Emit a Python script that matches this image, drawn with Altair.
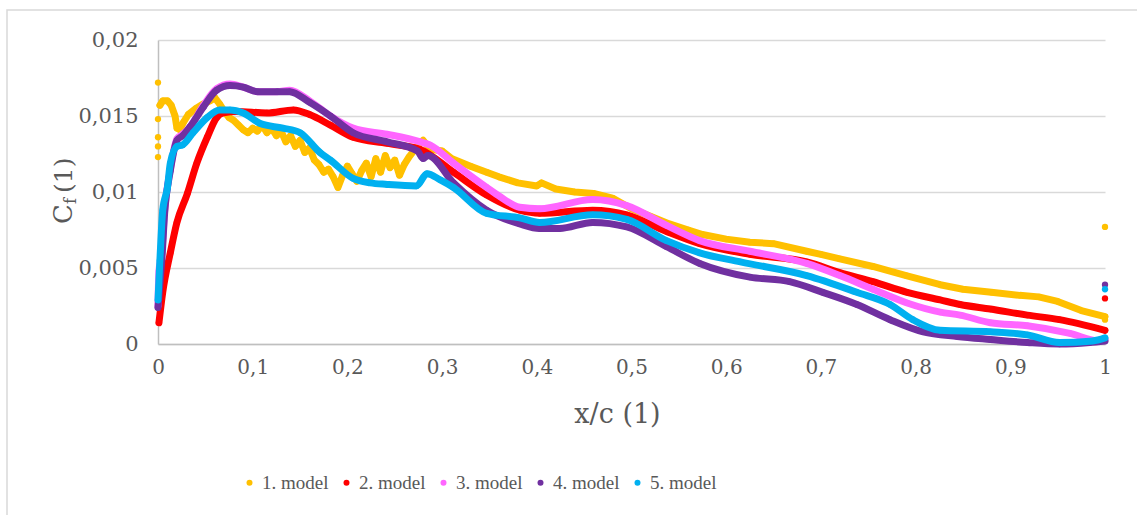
import altair as alt
import pandas as pd

# Skin-friction coefficient along the chord for five turbulence models
names = ["1. model", "2. model", "3. model", "4. model", "5. model"]
colors = ["#FFC000", "#FF0000", "#FF66FF", "#7030A0", "#00B0F0"]

m1_x = [0.002, 0.005, 0.01, 0.014, 0.018, 0.02, 0.023, 0.027, 0.032, 0.04, 0.048, 0.055,
        0.06, 0.065, 0.07, 0.075, 0.08, 0.085, 0.09, 0.095, 0.1, 0.105, 0.11, 0.115, 0.12,
        0.125, 0.13, 0.135, 0.14, 0.145, 0.15, 0.155, 0.16, 0.165, 0.17, 0.175, 0.18, 0.185,
        0.19, 0.195, 0.2, 0.205, 0.21, 0.215, 0.22, 0.225, 0.23, 0.235, 0.24, 0.245, 0.25,
        0.255, 0.26, 0.265, 0.27, 0.275, 0.28, 0.285, 0.29, 0.3, 0.31, 0.33, 0.347, 0.36,
        0.38, 0.4, 0.405, 0.42, 0.44, 0.46, 0.48, 0.5, 0.52, 0.54, 0.56, 0.575, 0.6, 0.625,
        0.65, 0.685, 0.7, 0.72, 0.755, 0.79, 0.826, 0.85, 0.88, 0.91, 0.93, 0.95, 0.975, 1.0]
m1_y = [0.0157, 0.0160, 0.0160, 0.0157, 0.0150, 0.0142, 0.0141, 0.0146, 0.0151, 0.0155, 0.0158, 0.0160,
        0.0162, 0.0158, 0.0153, 0.0149, 0.0147, 0.0144, 0.0141, 0.0139, 0.0142, 0.0140, 0.0144, 0.0139, 0.0142,
        0.0137, 0.0140, 0.0133, 0.0137, 0.0130, 0.0134, 0.0126, 0.0129, 0.0121, 0.0118, 0.0113, 0.0115, 0.0110,
        0.0103, 0.0111, 0.0117, 0.0112, 0.0107, 0.0114, 0.0119, 0.0110, 0.0122, 0.0113, 0.0124, 0.0116, 0.0121,
        0.0111, 0.0118, 0.0123, 0.0127, 0.0131, 0.0134, 0.0130, 0.0128, 0.0127, 0.0122, 0.0117, 0.0113, 0.0110,
        0.0106, 0.0104, 0.0106, 0.0102, 0.0100, 0.0099, 0.0096, 0.0089, 0.0084, 0.0079, 0.0075, 0.0072, 0.0069, 0.0067,
        0.0066, 0.0061, 0.0059, 0.0056, 0.0051, 0.0045, 0.0039, 0.0036, 0.0034, 0.0032, 0.0031, 0.0028, 0.0022, 0.0018]

m2_x = [0.001, 0.005, 0.013, 0.02, 0.031, 0.041, 0.052, 0.062, 0.069, 0.083, 0.115, 0.143,
        0.16, 0.182, 0.206, 0.242, 0.277, 0.312, 0.347, 0.382, 0.403, 0.459, 0.495, 0.537,
        0.572, 0.625, 0.685, 0.72, 0.755, 0.791, 0.826, 0.847, 0.879, 0.918, 0.952, 1.0]
m2_y = [0.0014, 0.0034, 0.0060, 0.0080, 0.0099, 0.0119, 0.0136, 0.0149, 0.0152, 0.0153, 0.0152, 0.0154,
        0.0151, 0.0144, 0.0136, 0.0132, 0.0128, 0.0113, 0.0098, 0.0088, 0.0086, 0.0088, 0.0085, 0.0074,
        0.0066, 0.0059, 0.0054, 0.0047, 0.0041, 0.0034, 0.0029, 0.0026, 0.0023, 0.0019, 0.0016, 0.0009]

m3_x = [0.0, 0.001, 0.004, 0.007, 0.013, 0.02, 0.026, 0.034, 0.048, 0.062, 0.076, 0.09,
        0.105, 0.126, 0.139, 0.16, 0.171, 0.182, 0.206, 0.242, 0.277, 0.287, 0.312, 0.347,
        0.361, 0.382, 0.403, 0.459, 0.495, 0.537, 0.572, 0.625, 0.685, 0.72, 0.755, 0.791,
        0.826, 0.847, 0.879, 0.918, 0.963, 0.994, 1.0]
m3_y = [0.0025, 0.0048, 0.0060, 0.0088, 0.0115, 0.0135, 0.0138, 0.0143, 0.0157, 0.0168, 0.0171, 0.0169,
        0.0166, 0.0166, 0.0167, 0.0160, 0.0155, 0.0150, 0.0142, 0.0138, 0.0133, 0.0131, 0.0119, 0.0103,
        0.0097, 0.0090, 0.0089, 0.0095, 0.0091, 0.0078, 0.0068, 0.0061, 0.0053, 0.0045, 0.0036, 0.0027,
        0.0021, 0.0019, 0.0014, 0.0012, 0.0007, 0.0002, 0.0003]

m4_x = [0.0, 0.002, 0.004, 0.007, 0.013, 0.02, 0.026, 0.034, 0.048, 0.062, 0.076, 0.09,
        0.105, 0.126, 0.139, 0.16, 0.182, 0.206, 0.242, 0.274, 0.28, 0.285, 0.312, 0.347,
        0.382, 0.403, 0.424, 0.459, 0.495, 0.537, 0.572, 0.625, 0.667, 0.702, 0.738, 0.773,
        0.808, 0.844, 0.879, 0.918, 0.952, 0.984, 1.0]
m4_y = [0.0024, 0.0040, 0.0055, 0.0086, 0.0114, 0.0134, 0.0137, 0.0143, 0.0156, 0.0167, 0.0170, 0.0169,
        0.0166, 0.0166, 0.0166, 0.0159, 0.0150, 0.0139, 0.0133, 0.0127, 0.0122, 0.0124, 0.0106, 0.0088,
        0.0079, 0.0076, 0.0076, 0.0080, 0.0077, 0.0064, 0.0053, 0.0044, 0.0041, 0.0034, 0.0026, 0.0016,
        0.0008, 0.0005, 0.0003, 0.0001, 0.0000, 0.0001, 0.0002]

m5_x = [0.0, 0.002, 0.005, 0.01, 0.013, 0.02, 0.026, 0.037, 0.052, 0.065, 0.076, 0.09,
        0.108, 0.132, 0.15, 0.171, 0.182, 0.206, 0.224, 0.242, 0.273, 0.284, 0.298, 0.312,
        0.347, 0.382, 0.403, 0.459, 0.495, 0.537, 0.572, 0.615, 0.685, 0.738, 0.773, 0.797,
        0.826, 0.879, 0.918, 0.952, 0.987, 1.0]
m5_y = [0.0029, 0.0055, 0.0088, 0.0103, 0.0119, 0.0130, 0.0131, 0.0139, 0.0149, 0.0154, 0.0154, 0.0152,
        0.0145, 0.0142, 0.0139, 0.0126, 0.0121, 0.0109, 0.0106, 0.0105, 0.0104, 0.0112, 0.0108, 0.0103,
        0.0086, 0.0083, 0.0080, 0.0085, 0.0082, 0.0068, 0.0060, 0.0054, 0.0045, 0.0034, 0.0026, 0.0016,
        0.0009, 0.0008, 0.0006, 0.0001, 0.0002, 0.0004]

# Loose points that sit apart from the curves (leading-edge scatter, trailing-edge values)
loose_model = ["1. model"] * 7 + ["2. model", "4. model", "5. model"]
loose_x = [0.0, 0.0, 0.0, 0.0, 0.0, 1.0, 1.0, 1.0, 1.0, 1.0]
loose_y = [0.0172, 0.0148, 0.0136, 0.0130, 0.0123, 0.0077, 0.0016, 0.0030, 0.0039, 0.0036]

series = [(m1_x, m1_y), (m2_x, m2_y), (m3_x, m3_y), (m4_x, m4_y), (m5_x, m5_y)]
# model 1 is noisy and drawn point to point; the others are smooth curves
interp = ["linear", "monotone", "monotone", "monotone", "monotone"]

FONT = "DejaVu Serif"
TXT = "#595959"

color_scale = alt.Scale(domain=names, range=colors)
x_enc = alt.X("x:Q", scale=alt.Scale(domain=[0, 1], nice=False),
              axis=alt.Axis(values=[i / 10 for i in range(11)], title="x/c (1)",
                            labelExpr="replace(toString(datum.value), '.', ',')",
                            labelFlush=False, labelOverlap=False,
                            grid=False, ticks=False, domainColor="#bfbfbf", domainWidth=1.5,
                            labelFont=FONT, labelFontSize=20, labelColor=TXT, labelPadding=13,
                            titleFont=FONT, titleFontSize=27, titleFontWeight="normal",
                            titleColor=TXT, titleX=459, titleY=70, titleBaseline="middle"))
y_enc = alt.Y("cf:Q", scale=alt.Scale(domain=[0, 0.02], nice=False),
              axis=alt.Axis(values=[0, 0.005, 0.01, 0.015, 0.02], title=None,
                            labelExpr="replace(toString(datum.value), '.', ',')",
                            grid=True, gridColor="#d9d9d9", gridWidth=1.5, ticks=False,
                            domainColor="#bfbfbf", domainWidth=1.5,
                            labelFont=FONT, labelFontSize=21, labelColor=TXT, labelPadding=20))

layers = []

# Outer chart frame
frame = alt.Chart(alt.Data(values=[{"k": 0}])).mark_rect(
    fill=None, stroke="#d9d9d9", strokeWidth=1.5
).encode(x=alt.value(-151), y=alt.value(-30), x2=alt.value(1000), y2=alt.value(490))
layers.append(frame)

for name, col, ip, (xs, ys) in zip(names, colors, interp, series):
    df = pd.DataFrame({"x": xs, "cf": ys, "model": name})
    line = alt.Chart(df).mark_line(color=col, strokeWidth=7, strokeCap="round",
                                   strokeJoin="round", interpolate=ip).encode(
        x=x_enc, y=y_enc, order="x:Q")
    dots = alt.Chart(df).mark_circle(size=40, opacity=1).encode(
        x=x_enc, y=y_enc,
        color=alt.Color("model:N", scale=color_scale, title=None))
    layers += [line, dots]

loose_df = pd.DataFrame({"x": loose_x, "cf": loose_y, "model": loose_model})
loose = alt.Chart(loose_df).mark_circle(size=40, opacity=1).encode(
    x=x_enc, y=y_enc, color=alt.Color("model:N", scale=color_scale, title=None))
layers.append(loose)

# Rotated y-axis title with subscript f
ytitle = alt.Data(values=[{"k": 0}])
t_c = alt.Chart(ytitle).mark_text(text="C", angle=270, align="left", baseline="alphabetic",
                                  font=FONT, fontSize=26, color=TXT).encode(
    x=alt.value(-86), y=alt.value(184))
t_f = alt.Chart(ytitle).mark_text(text="f", angle=270, align="left", baseline="alphabetic",
                                  font=FONT, fontSize=16, color=TXT).encode(
    x=alt.value(-82), y=alt.value(164))
t_1 = alt.Chart(ytitle).mark_text(text="(1)", angle=270, align="left", baseline="alphabetic",
                                  font=FONT, fontSize=25, color=TXT).encode(
    x=alt.value(-86), y=alt.value(153))
layers += [t_c, t_f, t_1]

chart = alt.layer(*layers).properties(
    width=947, height=304,
    autosize=alt.AutoSizeParams(type="none"),
    padding={"left": 158, "top": 40, "right": 32, "bottom": 171},
).configure_view(stroke=None).configure_legend(
    orient="none", legendX=82, legendY=433, direction="horizontal",
    symbolType="circle", symbolSize=36, symbolStrokeWidth=0,
    labelFont="Liberation Serif", labelFontSize=19, labelColor=TXT,
    labelOffset=3, columnPadding=8,
)

chart.save("out.html", embed_options={"renderer": "svg", "actions": False})
